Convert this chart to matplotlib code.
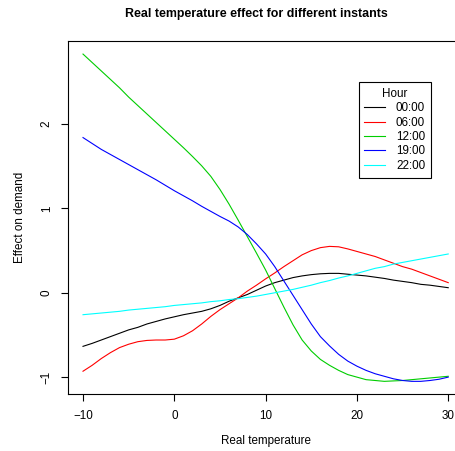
import numpy as np
import matplotlib
matplotlib.use('Agg')
import matplotlib.pyplot as plt

# Estimated temperature effect curves
temperature = list(range(-10, 31))

effect_00 = [-0.635, -0.60, -0.56, -0.52, -0.48, -0.44, -0.41, -0.37, -0.34, -0.31,
             -0.285, -0.26, -0.24, -0.22, -0.19, -0.15, -0.10, -0.06, -0.02, 0.03,
             0.08, 0.12, 0.15, 0.18, 0.20, 0.215, 0.225, 0.23, 0.23, 0.22,
             0.21, 0.20, 0.185, 0.17, 0.15, 0.135, 0.12, 0.10, 0.09, 0.075, 0.06]

effect_06 = [-0.93, -0.86, -0.78, -0.71, -0.65, -0.61, -0.58, -0.565, -0.56, -0.56,
             -0.55, -0.51, -0.45, -0.37, -0.28, -0.20, -0.13, -0.06, 0.02, 0.09,
             0.165, 0.235, 0.31, 0.38, 0.45, 0.50, 0.535, 0.55, 0.545, 0.52,
             0.49, 0.46, 0.43, 0.39, 0.35, 0.31, 0.28, 0.24, 0.20, 0.16, 0.12]

effect_12 = [2.83, 2.73, 2.63, 2.53, 2.43, 2.32, 2.22, 2.12, 2.02, 1.92,
             1.82, 1.72, 1.615, 1.505, 1.38, 1.225, 1.05, 0.86, 0.665, 0.47,
             0.27, 0.05, -0.17, -0.38, -0.56, -0.69, -0.79, -0.86, -0.92, -0.97,
             -1.00, -1.03, -1.04, -1.05, -1.045, -1.04, -1.03, -1.02, -1.01, -1.00, -0.99]

effect_19 = [1.84, 1.77, 1.70, 1.64, 1.58, 1.52, 1.46, 1.40, 1.34, 1.275,
             1.21, 1.15, 1.09, 1.025, 0.965, 0.905, 0.85, 0.78, 0.69, 0.58,
             0.46, 0.31, 0.14, -0.03, -0.20, -0.37, -0.52, -0.63, -0.73, -0.81,
             -0.87, -0.92, -0.96, -0.99, -1.02, -1.04, -1.05, -1.05, -1.04, -1.025, -1.00]

effect_22 = [-0.26, -0.25, -0.24, -0.23, -0.22, -0.205, -0.195, -0.185, -0.175, -0.165,
             -0.15, -0.14, -0.13, -0.12, -0.105, -0.095, -0.08, -0.07, -0.055, -0.04,
             -0.02, 0.0, 0.02, 0.04, 0.065, 0.09, 0.12, 0.145, 0.175, 0.20,
             0.23, 0.26, 0.29, 0.31, 0.34, 0.36, 0.38, 0.40, 0.42, 0.44, 0.46]

hours = ['00:00', '06:00', '12:00', '19:00', '22:00']
colors = ['black', 'red', '#00cd00', 'blue', 'cyan']
xticks = [-10, 0, 10, 20, 30]
yticks = [-1, 0, 1, 2]

plt.rcParams['font.family'] = ['Liberation Sans', 'DejaVu Sans']


def fmt(v):
    return str(v).replace('-', '\u2212')


fig = plt.figure(figsize=(4.56, 4.51), dpi=100)
ax = fig.add_axes([0.150, 0.1264, 0.865, 0.7827])

for series, hour, col in zip([effect_00, effect_06, effect_12, effect_19, effect_22], hours, colors):
    ax.plot(temperature, series, color=col, lw=0.8, label=hour)

ax.set_xlim(-11.6, 31.6)
ax.set_ylim(-1.2, 2.985)
ax.set_xticks(xticks)
ax.set_yticks(yticks)
ax.set_xticklabels([fmt(t) for t in xticks])
ax.set_yticklabels([fmt(t) for t in yticks], rotation=90, va='center')
ax.tick_params(direction='out', length=5.3, width=0.8, pad=6.0, labelsize=8.4)
for sp in ax.spines.values():
    sp.set_linewidth(0.8)
    sp.set_color('black')

ax.set_xlabel('Real temperature', fontsize=8.4)
ax.xaxis.set_label_coords(0.5, -0.117)
ax.set_ylabel('Effect on demand', fontsize=8.4)
ax.yaxis.set_label_coords(-0.108, 0.5)

fig.text(256 / 456, 1 - 13.5 / 451, 'Real temperature effect for different instants',
         ha='center', va='center', fontsize=8.9, fontweight='bold')

leg = ax.legend(title='Hour', loc='upper right', bbox_to_anchor=(0.919, 0.883),
                borderaxespad=0, fontsize=8.4, title_fontsize=8.4, fancybox=False,
                framealpha=1, edgecolor='black', handlelength=1.8, handletextpad=0.9,
                labelspacing=0.2, borderpad=0.5)
leg.get_frame().set_linewidth(0.8)

fig.savefig('out.png', dpi=100)
